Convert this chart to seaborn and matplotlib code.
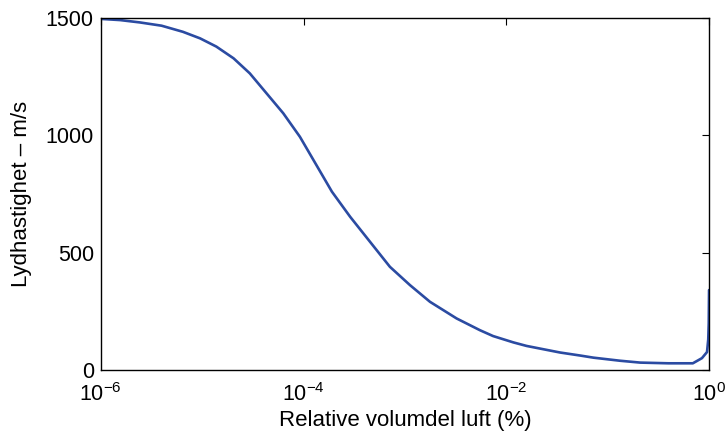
import numpy as np
import pandas as pd
import matplotlib
matplotlib.use("Agg")
import matplotlib.pyplot as plt
from matplotlib.ticker import NullLocator
import seaborn as sns

# Speed of sound in a water/air mixture versus relative air volume fraction
log_air_fraction = [
    -6.0, -5.81, -5.615, -5.40, -5.19, -5.02, -4.86, -4.69, -4.53, -4.365,
    -4.20, -4.036, -3.905, -3.72, -3.54, -3.345, -3.148, -2.95, -2.753, -2.49,
    -2.26, -2.13, -1.93, -1.80, -1.60, -1.47, -1.27, -1.14, -1.0, -0.88,
    -0.68, -0.4, -0.16, -0.07, -0.02, -0.008, -0.003, 0.0,
]
sound_speed = [
    1496, 1491, 1481, 1467, 1441, 1413, 1378, 1328, 1264, 1179,
    1094, 994, 897, 760, 653, 547, 440, 362, 291, 220,
    170, 145, 118, 103, 86, 75, 62, 53, 46, 40,
    32, 29, 29, 51, 77, 130, 200, 341,
]

x_label = "Relative volumdel luft (%)"
y_label = "Lydhastighet \u2013 m/s"
y_ticks = [0, 500, 1000, 1500]
x_ticks = [1e-6, 1e-4, 1e-2, 1e0]

df = pd.DataFrame({
    "air": np.power(10.0, log_air_fraction),
    "speed": sound_speed,
})

sns.set_style("white")
plt.rcParams["font.family"] = ["Liberation Sans", "DejaVu Sans"]
plt.rcParams["mathtext.fontset"] = "custom"
plt.rcParams["mathtext.rm"] = "Liberation Sans"
plt.rcParams["mathtext.it"] = "Liberation Sans:italic"
plt.rcParams["mathtext.bf"] = "Liberation Sans:bold"

fig = plt.figure(figsize=(7.25, 4.38), dpi=100)
ax = fig.add_axes([0.139, 0.155, 0.839, 0.804])

sns.lineplot(data=df, x="air", y="speed", ax=ax, color="#2b4ba2",
             linewidth=1.9, estimator=None, sort=False)

ax.set_xscale("log")
ax.set_xlim(1e-6, 1e0)
ax.set_ylim(0, 1500)
ax.set_xticks(x_ticks)
ax.xaxis.set_minor_locator(NullLocator())
ax.set_yticks(y_ticks)

for side in ["left", "right", "top", "bottom"]:
    ax.spines[side].set_visible(True)
    ax.spines[side].set_color("black")
    ax.spines[side].set_linewidth(1.0)

ax.tick_params(axis="both", which="major", direction="in", length=5,
               width=0.8, color="black", top=True, right=True,
               labelsize=15.5, labelcolor="black")
ax.tick_params(axis="x", pad=9)
ax.tick_params(axis="y", pad=5)

ax.set_xlabel(x_label, fontsize=16, color="black", labelpad=3)
ax.set_ylabel(y_label, fontsize=16, color="black", labelpad=10)

fig.savefig("out.png", dpi=100, facecolor="white")
